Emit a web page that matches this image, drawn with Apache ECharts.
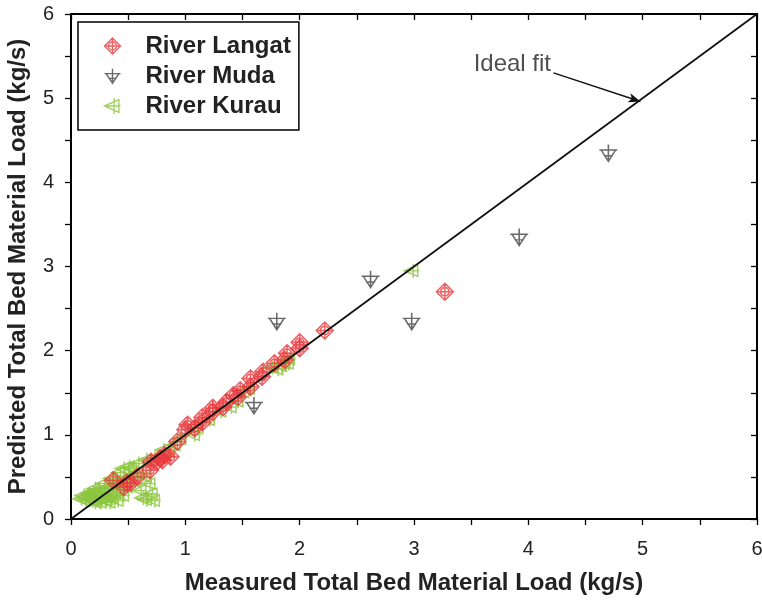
<!DOCTYPE html>
<html>
<head>
<meta charset="utf-8">
<script src="https://cdn.jsdelivr.net/npm/echarts@6/dist/echarts.min.js"></script>
<style>html,body{margin:0;padding:0;background:#fff;overflow:hidden;}#c{width:762px;height:602px;}</style>
</head>
<body>
<div id="c"></div>
<script>
// ---- data ----
const langat = [[0.37,0.46],[0.46,0.38],[0.49,0.43],[0.52,0.43],[0.58,0.50],[0.69,0.58],[0.70,0.68],[0.75,0.68],[0.78,0.72],[0.80,0.70],[0.87,0.74],[0.82,0.76],[0.93,0.92],[1.00,1.06],[1.02,1.12],[1.08,1.08],[1.15,1.15],[1.15,1.21],[1.24,1.27],[1.24,1.32],[1.33,1.33],[1.36,1.39],[1.42,1.47],[1.46,1.45],[1.48,1.53],[1.57,1.57],[1.57,1.67],[1.67,1.69],[1.68,1.75],[1.78,1.85],[1.87,1.89],[1.89,1.97],[2.00,2.03],[2.00,2.10],[2.22,2.24],[3.27,2.70]];
const muda = [[1.60,1.35],[1.80,2.35],[2.62,2.85],[2.98,2.35],[3.92,3.35],[4.70,4.35]];
const kurau = [[0.08,0.24],[0.10,0.28],[0.12,0.22],[0.12,0.26],[0.15,0.25],[0.15,0.30],[0.18,0.22],[0.18,0.32],[0.20,0.28],[0.20,0.20],[0.20,0.36],[0.22,0.24],[0.22,0.32],[0.25,0.20],[0.25,0.30],[0.26,0.24],[0.28,0.26],[0.28,0.36],[0.28,0.42],[0.30,0.22],[0.30,0.34],[0.32,0.28],[0.33,0.20],[0.35,0.25],[0.35,0.38],[0.35,0.48],[0.38,0.30],[0.38,0.45],[0.40,0.22],[0.40,0.42],[0.42,0.35],[0.42,0.55],[0.45,0.28],[0.45,0.45],[0.45,0.60],[0.48,0.38],[0.50,0.50],[0.50,0.62],[0.52,0.60],[0.55,0.45],[0.58,0.55],[0.60,0.34],[0.62,0.25],[0.65,0.23],[0.65,0.50],[0.68,0.42],[0.70,0.30],[0.72,0.22],[0.58,0.66],[0.65,0.70],[0.72,0.72],[0.80,0.82],[0.85,0.80],[0.90,0.88],[0.95,0.95],[1.07,1.00],[1.10,1.08],[1.20,1.18],[1.30,1.28],[1.39,1.33],[1.45,1.40],[1.50,1.51],[1.55,1.55],[1.75,1.80],[1.80,1.78],[1.83,1.82],[1.86,1.85],[1.89,1.85],[1.90,1.90],[2.98,2.95]];
const idealFit = [[0,0],[6,6]];
const arrowLine = [[4.22,5.30],[4.98,4.96]];
const fitLabelPos = [[3.86,5.40]];
const fitLabel = 'Ideal fit';
const names = ['River Langat','River Muda','River Kurau'];
const xTitle = 'Measured Total Bed Material Load (kg/s)';
const yTitle = 'Predicted Total Bed Material Load (kg/s)';

const symDiamond = 'path://M0,-10 L10,0 L0,10 L-10,0 Z M5,0 A5,5 0 1 1 -5,0 A5,5 0 1 1 5,0 M0,-10 L0,10 M-10,0 L10,0';
const symTriDown = 'path://M-8,-3 L8,-3 L0,9 Z M0,-9 L0,9 M-10,-3 L10,-3 M-5,3 L5,3';
const symTriLeft = 'path://M-9,0 L9,-8 L9,8 Z M-9,0 L11,0 M3,-10 L3,10';

const FONT = '"Liberation Sans", Arial, sans-serif';
const RED = '#e8383d', GREY = '#444', GREEN = '#8cc63e';
const chart = echarts.init(document.getElementById('c'), null, {renderer:'canvas'});

function axisCommon(extra){
  return Object.assign({
    type:'value', min:0, max:6, interval:1,
    axisLine:{show:true, onZero:false, lineStyle:{color:'#000', width:2}},
    splitLine:{show:false},
    minorTick:{show:true, splitNumber:2, length:6, lineStyle:{color:'#000', width:1.3}},
    axisTick:{show:true, length:6, lineStyle:{color:'#000', width:1.3}}
  }, extra);
}
const innerTick = {show:true, inside:true, length:6, lineStyle:{color:'#000',width:1.3}};
const innerMinor = {show:true, splitNumber:2, length:6, lineStyle:{color:'#000',width:1.3}};

chart.setOption({
  animation:false,
  backgroundColor:'#fff',
  grid:{left:71, right:5, top:14, bottom:83, containLabel:false, outerBoundsMode:'none'},
  xAxis:[
    axisCommon({position:'bottom', name:xTitle, nameLocation:'middle', nameGap:52,
      nameTextStyle:{fontFamily:FONT, fontSize:24, fontWeight:'bold', color:'#222'},
      axisLabel:{margin:20, fontFamily:FONT, fontSize:20, color:'#222'}}),
    axisCommon({position:'top', axisLabel:{show:false}, axisTick:innerTick, minorTick:innerMinor})
  ],
  yAxis:[
    axisCommon({position:'left', name:yTitle, nameLocation:'middle', nameGap:41,
      nameTextStyle:{fontFamily:FONT, fontSize:24, fontWeight:'bold', color:'#222'},
      axisLabel:{margin:17, fontFamily:FONT, fontSize:20, color:'#222'}}),
    axisCommon({position:'right', axisLabel:{show:false}, axisTick:innerTick, minorTick:innerMinor})
  ],
  legend:{
    orient:'vertical', left:78, top:22,
    data:[
      {name:names[0], icon:symDiamond, itemStyle:{color:'none', borderColor:RED, borderWidth:1.4}},
      {name:names[1], icon:symTriDown, itemStyle:{color:'none', borderColor:GREY, borderWidth:1.4}},
      {name:names[2], icon:symTriLeft, itemStyle:{color:'none', borderColor:GREEN, borderWidth:1.4}}
    ],
    itemWidth:16, itemHeight:16, itemGap:6,
    padding:[12,8,12,24],
    borderColor:'#000', borderWidth:1.5,
    textStyle:{fontFamily:FONT, fontSize:24, fontWeight:'bold', color:'#222', padding:[0,0,0,20]}
  },
  series:[
    {type:'line', data:idealFit, symbol:'none', silent:true, lineStyle:{color:'#111', width:1.8}, z:5,
      markLine:{silent:true, symbol:['none','arrow'], symbolSize:[7,12],
        label:{show:false},
        lineStyle:{color:'#111', width:1.4, type:'solid'},
        data:[[{coord:arrowLine[0]},{coord:arrowLine[1]}]]}},
    {type:'scatter', data:fitLabelPos, symbolSize:0, silent:true,
      label:{show:true, formatter:fitLabel, position:'inside', fontFamily:FONT, fontSize:24, color:'#222'}},
    {type:'scatter', name:names[2], data:kurau, symbol:symTriLeft, symbolSize:[15,14],
      itemStyle:{color:'none', borderColor:GREEN, borderWidth:1.5}, z:3},
    {type:'scatter', name:names[0], data:langat, symbol:symDiamond, symbolSize:17,
      itemStyle:{color:'none', borderColor:RED, borderWidth:1.5}, z:4},
    {type:'scatter', name:names[1], data:muda, symbol:symTriDown, symbolSize:[18,17],
      itemStyle:{color:'none', borderColor:GREY, borderWidth:1.5}, z:4}
  ]
});
</script>
</body>
</html>
